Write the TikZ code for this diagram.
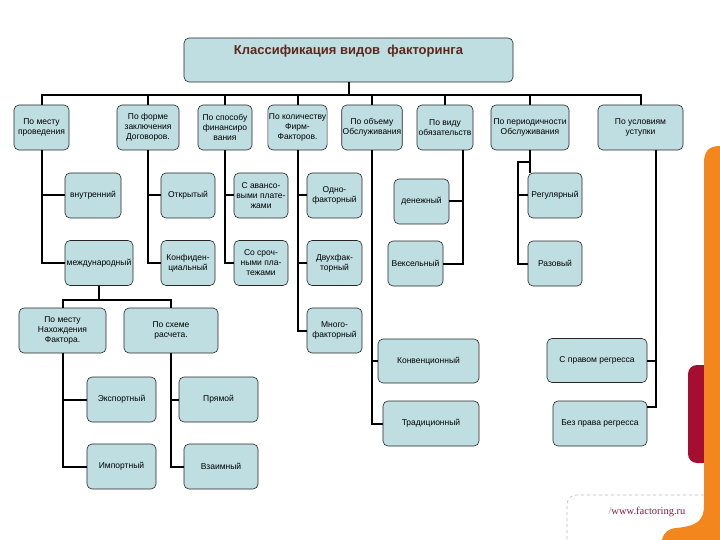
\documentclass[tikz,border=0pt]{standalone}
\usepackage{fontspec}
\newfontfamily\armfont{Liberation Sans}
\newfontfamily\urlfont{Liberation Serif}
\usetikzlibrary{positioning,calc}
\definecolor{boxfill}{RGB}{190,222,226}
\definecolor{titlered}{RGB}{92,40,28}
\definecolor{orangeband}{RGB}{243,135,30}
\definecolor{crimson}{RGB}{165,14,48}
\definecolor{urlred}{RGB}{140,26,60}
\definecolor{dashgray}{RGB}{185,185,185}

\begin{document}
\begin{tikzpicture}[x=1pt,y=-1pt,
				cls/.style={draw=black!85,fill=boxfill,rounded corners=5pt,line width=0.6pt,inner sep=1pt,align=center,font=\armfont\fontsize{8.5}{10}\selectfont,minimum height=45pt},
				hd/.style={cls,font=\armfont\bfseries\fontsize{13}{15}\selectfont,text=titlered},
				link/.style={line width=2pt,black},
				deco/.style={dashgray,dashed,line width=0.6pt}
				]
				\useasboundingbox (0,0) rectangle (720,540);
				
				\draw[deco] (704,495) -- (577,495) .. controls (570,495) and (567,499) .. (567,506) -- (567,540);
				\fill[crimson,rounded corners=9pt] (712,365) -- (688,365) -- (688,463) -- (712,463) -- cycle;
				\fill[orangeband] (720,540) -- (662,540) .. controls (664,532) and (668,529) .. (676,528) .. controls (698,526) and (704,520) .. (704,505) -- (704,163) .. controls (704,152) and (708,146) .. (720,146) -- cycle;
				\node[font=\urlfont\fontsize{10.5}{12}\selectfont,text=urlred,inner sep=0pt] (url) at (647,512) {\textcolor{gray}{/}www.factoring.ru};
				
				\node[hd,minimum width=329pt,minimum height=44pt,text depth=20pt] (title) at (348.5,60) {Классификация видов\ \ факторинга};
				
				\node[cls,minimum width=55pt] (mesto)  at (41.5,127.5) {По месту\\проведения};
				\node[cls,minimum width=62pt] (forma)  at (148,127.5)  {По форме\\заключения\\Договоров.};
				\node[cls,minimum width=54pt] (sposob) at (225,127.5)  {По способу\\финансиро\\вания};
				\node[cls,minimum width=55pt] (kolvo)  at (297.5,127.5) {По количеству\\Фирм-\\Факторов.};
				\node[cls,minimum width=54pt] (obem)   at (372,127.5)  {По объему\\Обслуживания};
				\node[cls,minimum width=56pt] (vid)    at (445,127.5)  {По виду\\обязательств};
				\node[cls,minimum width=78pt] (period) at (530,127.5)  {По периодичности\\Обслуживания};
				\node[cls,minimum width=85pt] (uslov)  at (640.5,127.5) {По условиям\\уступки};
				
				\node[cls,minimum width=56pt] (vnutr)  at (93,195.5)   {внутренний};
				\node[cls,minimum width=68pt] (mezhd)  at (99,263)     {международный};
				\node[cls,minimum width=54pt] (otkr)   at (188,195.5)  {Открытый};
				\node[cls,minimum width=54pt] (konf)   at (188,263)    {Конфиден-\\циальный};
				\node[cls,minimum width=54pt] (avans)  at (261,195.5)  {С авансо-\\выми плате-\\жами};
				\node[cls,minimum width=54pt] (srochn) at (261,263)    {Со сроч-\\ными пла-\\тежами};
				\node[cls,minimum width=55pt] (odno)   at (334.5,195.5) {Одно-\\факторный};
				\node[cls,minimum width=55pt] (dvuh)   at (334.5,263)  {Двухфак-\\торный};
				\node[cls,minimum width=55pt] (mnogo)  at (334.5,330.5) {Много-\\факторный};
				\node[cls,minimum width=55pt] (denezh) at (421.5,201.5) {денежный};
				\node[cls,minimum width=55pt] (veks)   at (415.5,263.5) {Вексельный};
				\node[cls,minimum width=54pt] (regul)  at (555,195.5)  {Регулярный};
				\node[cls,minimum width=54pt] (razov)  at (555,263.5)  {Разовый};
				\node[cls,minimum width=101pt,minimum height=44pt] (konv) at (428.5,361) {Конвенционный};
				\node[cls,minimum width=96pt] (trad)   at (431,423.5)  {Традиционный};
				\node[cls,minimum width=100pt,minimum height=44pt] (spravom) at (597,360.5) {С правом регресса};
				\node[cls,minimum width=94pt] (bezprava) at (600,423.5) {Без права регресса};
				
				\node[cls,minimum width=87pt] (pmn)    at (62.5,330.5) {По месту\\Нахождения\\Фактора.};
				\node[cls,minimum width=94pt] (shema)  at (171,330.5)  {По схеме\\расчета.};
				\node[cls,minimum width=69pt] (eksp)   at (121.5,399.5) {Экспортный};
				\node[cls,minimum width=69pt] (imp)    at (121.5,466.5) {Импортный};
				\node[cls,minimum width=79pt] (pryam)  at (218.5,399.5) {Прямой};
				\node[cls,minimum width=74pt] (vzaim)  at (221,466.5)  {Взаимный};
				
				\coordinate (bar) at (348.5,95);
				\draw[link] (title.south) -- (bar);
				\foreach \n in {mesto,forma,sposob,kolvo,obem,vid,period,uslov}
					\draw[link] (bar) -| (\n.north);
				
				\foreach \p/\c in {mesto/vnutr,mesto/mezhd,forma/otkr,forma/konf,sposob/avans,sposob/srochn,kolvo/odno,kolvo/dvuh,kolvo/mnogo,obem/konv,obem/trad,pmn/eksp,pmn/imp,shema/pryam,shema/vzaim}
					\draw[link] (\p.south) |- (\c.west);
				
				\coordinate (vidr) at (463,150);
				\draw[link] (vidr) |- (denezh.east);
				\draw[link] (vidr) |- (veks.east);
				
				\coordinate (perj) at (518,162);
				\draw[link] (period.south) -- (period.south |- regul.north);
				\draw[link] (period.south |- perj) -- (perj) |- (razov.west);
				\draw[link] (perj) |- (regul.west);
				
				\coordinate (uslr) at (656,150);
				\coordinate (uslend) at (656,407);
				\draw[link] (uslr) |- (spravom.east);
				\draw[link] (uslr) -- (uslend) -- (uslend -| bezprava.east);
				
				\coordinate (mj) at (99,300);
				\draw[link] (mezhd.south) -- (mj);
				\draw[link] (pmn.north) |- (mj) -| (shema.north);
			\end{tikzpicture}
\end{document}
